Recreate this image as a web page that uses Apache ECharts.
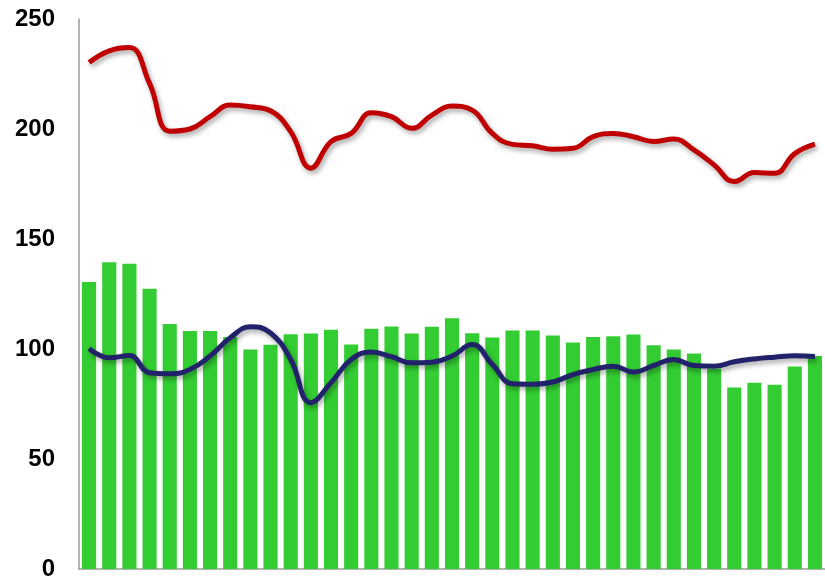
<!DOCTYPE html>
<html>
<head>
<meta charset="utf-8">
<script src="https://cdn.jsdelivr.net/npm/echarts@6/dist/echarts.min.js"></script>
<style>
  html, body { margin: 0; padding: 0; background: #fff; }
  #chart { width: 825px; height: 581px; }
</style>
</head>
<body>
<div id="chart"></div>
<script>
// Period index (one category per bar)
const categories = Array.from({ length: 37 }, (_, i) => String(i + 1));

// Green bars
const barValues = [
  130.5, 139.4, 138.8, 127.4, 111.4, 108.2, 108.2, 105.5, 99.8, 101.9,
  106.7, 107.0, 108.7, 102.0, 109.2, 110.2, 107.0, 110.1, 114.0, 107.2,
  105.2, 108.4, 108.4, 106.1, 102.9, 105.4, 105.8, 106.6, 101.7, 99.8,
  98.0, 91.0, 82.5, 84.7, 83.8, 92.1, 96.8
];

// Upper red line
const redValues = [
  230.2, 235.5, 237.0, 220.7, 199.0, 200.0, 205.6, 210.9, 210.1, 208.3,
  198.8, 182.2, 194.3, 198.0, 207.4, 205.6, 200.3, 206.3, 210.4, 208.6,
  198.0, 193.0, 192.4, 190.8, 191.2, 196.5, 198.0, 196.5, 194.3, 195.4,
  190.5, 183.7, 176.1, 180.2, 179.9, 188.8, 193.1
];

// Lower navy line
const navyValues = [
  100.2, 96.0, 97.0, 89.2, 88.7, 90.7, 96.8, 105.1, 110.1, 107.3,
  95.2, 75.6, 84.7, 95.2, 98.6, 96.5, 93.7, 94.0, 96.8, 102.0,
  93.0, 84.2, 84.0, 85.0, 88.4, 90.7, 92.2, 89.5, 92.5, 95.2,
  92.5, 92.2, 94.2, 95.5, 96.3, 96.9, 96.6
];

// Value axis ticks
const yMin = 0, yMax = 250, yStep = 50;

const chart = echarts.init(document.getElementById('chart'), null, { renderer: 'canvas' });

const lineShadow = {
  shadowColor: 'rgba(0,0,0,0.35)',
  shadowBlur: 5,
  shadowOffsetX: 2,
  shadowOffsetY: 3
};

chart.setOption({
  animation: false,
  backgroundColor: '#ffffff',
  grid: { left: 79, right: -4, top: 19, bottom: 11, containLabel: false },
  xAxis: {
    type: 'category',
    data: categories,
    boundaryGap: true,
    axisLine: { show: true, lineStyle: { color: '#9a9a9a', width: 1.5 } },
    axisTick: { show: false },
    axisLabel: { show: false },
    splitLine: { show: false }
  },
  yAxis: {
    type: 'value',
    min: yMin,
    max: yMax,
    interval: yStep,
    axisLine: { show: true, lineStyle: { color: '#9a9a9a', width: 1.5 } },
    axisTick: { show: false },
    splitLine: { show: false },
    axisLabel: {
      margin: 24,
      color: '#000',
      fontFamily: 'Liberation Sans, Arial, sans-serif',
      fontWeight: 'bold',
      fontSize: 24
    }
  },
  series: [
    {
      type: 'bar',
      data: barValues,
      barCategoryGap: '30%',
      itemStyle: { color: '#33cc33' },
      z: 1
    },
    {
      type: 'line',
      data: redValues,
      smooth: 0.45,
      symbol: 'none',
      lineStyle: Object.assign({ color: '#c00000', width: 5 }, lineShadow),
      z: 3
    },
    {
      type: 'line',
      data: navyValues,
      smooth: 0.45,
      symbol: 'none',
      lineStyle: Object.assign({ color: '#22226a', width: 5 }, lineShadow),
      z: 3
    }
  ]
});
</script>
</body>
</html>
